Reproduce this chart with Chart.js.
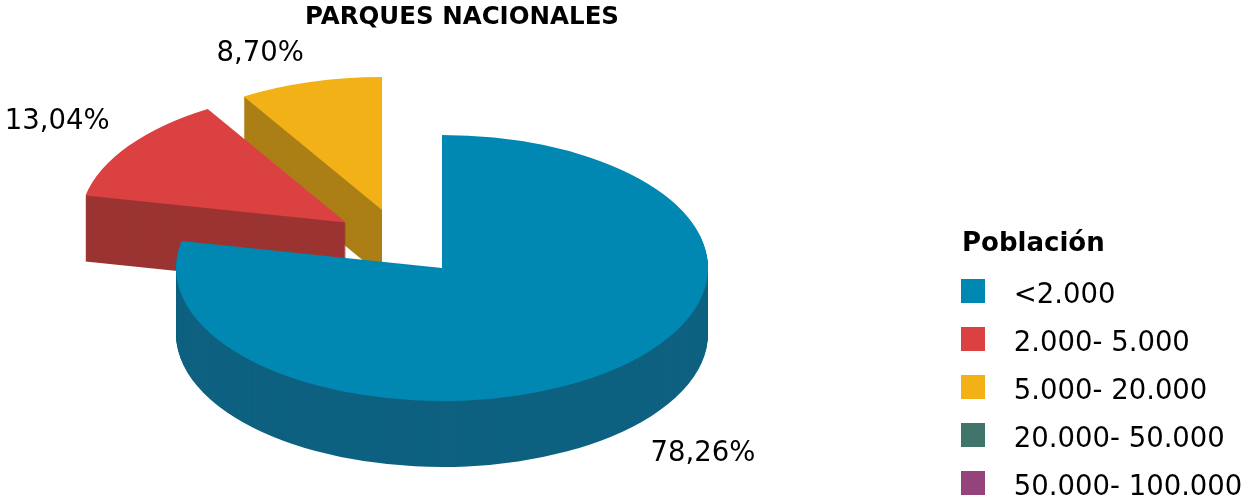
<!DOCTYPE html>
<html><head><meta charset="utf-8">
<style>html,body{margin:0;padding:0;background:#fff}canvas{display:block}</style>
<script src="https://cdn.jsdelivr.net/npm/chart.js@4/dist/chart.umd.min.js"></script>
</head><body>
<div style="width:1247px;height:498px"><canvas id="c" width="1247" height="498"></canvas></div>
<script>
const categories = ['<2.000','2.000- 5.000','5.000- 20.000','20.000- 50.000','50.000- 100.000'];
const values = [78.26,13.04,8.70,0,0];
const topColors = ['#0088B2','#DB4140','#F2B116','#41756C','#94447A'];
const wallColors = ['#0E6180','#9B3432','#AB7F15','#2E534D','#693057'];

// 3D projection style
const pieCenter = {x:442,y:268}, radiusX = 266, radiusY = 133, depth = 66;
const explodeX = [0,-96,-60,0,0];
const explodeY = [0,-45.5,-58,0,0];
const labelShiftX = [93,-71.5,-50,0,0];
const labelShiftY = [17,-24,-28,0,0];
const FONT = '"DejaVu Sans", Verdana, sans-serif';

function swatch(color){
  const s = document.createElement('canvas'); s.width = 24; s.height = 34;
  const g = s.getContext('2d'); g.fillStyle = color; g.fillRect(0,0,24,24);
  return s;
}
const swatches = topColors.map(swatch);

const pie3d = {
  id:'pie3d',
  afterLayout(chart){
    const lg = chart.legend, w = lg.width, h = lg.height;
    lg.left = 925.5; lg.right = 925.5 + w;
    lg.top = 228; lg.bottom = 228 + h;
    if(!lg._titleShifted){
      const drawTitle = lg.drawTitle;
      lg.drawTitle = function(){
        const c = this.ctx; c.save(); c.translate(36.5,0);
        drawTitle.call(this); c.restore();
      };
      lg._titleShifted = true;
    }
    const t = chart.titleBlock;
    t.left = 0; t.right = 924;
  },
  beforeDatasetDraw(chart,args){
    const ctx = chart.ctx, arcs = args.meta.data;
    const place = (arc,i,dz)=>{
      const sx = radiusX/arc.outerRadius, sy = radiusY/arc.outerRadius;
      ctx.save();
      ctx.translate(pieCenter.x+explodeX[i], pieCenter.y+explodeY[i]+dz);
      ctx.scale(sx,sy);
      ctx.translate(-arc.x,-arc.y);
      arc.draw(ctx);
      ctx.restore();
    };
    for(let i=arcs.length-1;i>=0;i--){
      const arc = arcs[i];
      if(!values[i]) continue;
      const base = arc.options;
      arc.options = Object.create(base,{backgroundColor:{value:wallColors[i]}});
      for(let d=depth;d>=1;d--) place(arc,i,d);
      arc.options = base;
      place(arc,i,0);
    }
    return false;
  },
  afterDatasetsDraw(chart){
    const ctx = chart.ctx, arcs = chart.getDatasetMeta(0).data;
    ctx.save();
    ctx.font = '27.5px '+FONT; ctx.fillStyle = '#000';
    ctx.textAlign = 'center'; ctx.textBaseline = 'middle';
    arcs.forEach((arc,i)=>{
      if(!values[i]) return;
      const mid = (arc.startAngle+arc.endAngle)/2;
      const wall = Math.sin(mid) > 0.3 ? depth : 0;
      const x = pieCenter.x+explodeX[i]+Math.cos(mid)*radiusX+labelShiftX[i];
      const y = pieCenter.y+explodeY[i]+Math.sin(mid)*radiusY+wall+labelShiftY[i];
      ctx.fillText(values[i].toFixed(2).replace('.',',')+'%',x,y);
    });
    ctx.restore();
  }
};

new Chart(document.getElementById('c'),{
  type:'pie',
  data:{labels:categories,datasets:[{data:values,backgroundColor:topColors,borderWidth:0,clip:false}]},
  plugins:[pie3d],
  options:{
    responsive:false,animation:false,events:[],
    layout:{padding:0},
    plugins:{
      tooltip:{enabled:false},
      title:{display:true,text:'PARQUES NACIONALES',color:'#000',
        font:{family:FONT,size:24.5,weight:'bold',lineHeight:1.2},padding:{top:3,bottom:4}},
      legend:{
        display:true,position:'right',align:'start',
        title:{display:true,text:'Población',color:'#000',position:'start',
          font:{family:FONT,size:26,weight:'bold',lineHeight:1.2},padding:{top:3,bottom:-0.5}},
        labels:{
          color:'#000',font:{family:FONT,size:27.5,lineHeight:1.2},
          usePointStyle:true,pointStyleWidth:54,boxHeight:24,padding:20.5,
          generateLabels(chart){
            return Chart.overrides.pie.plugins.legend.labels.generateLabels(chart)
              .map((l,i)=>Object.assign(l,{pointStyle:swatches[i],lineWidth:0}));
          }
        }
      }
    }
  }
});
</script>
</body></html>
